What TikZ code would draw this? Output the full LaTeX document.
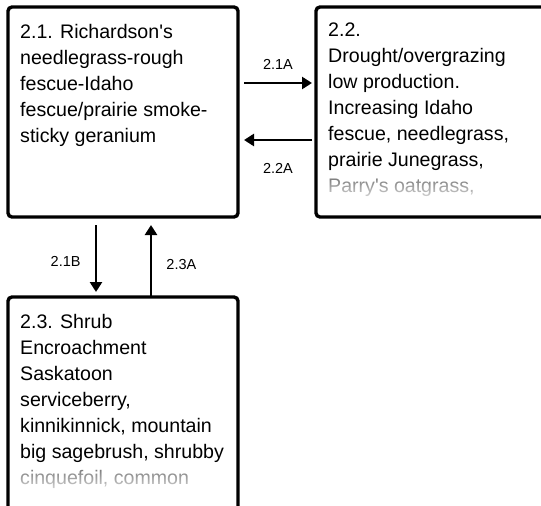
\documentclass[tikz,border=0pt]{standalone}
\usepackage{fontspec}
\setmainfont{Liberation Sans}
\usetikzlibrary{arrows.meta,fadings}
\tikzfading[name=fadelast, top color=transparent!55, bottom color=transparent!12]

\begin{document}
\begin{tikzpicture}[x=1pt,y=-1pt,
        >={Triangle[length=10pt,width=12pt]},
        box/.style={draw, line width=3.4pt, rounded corners=4pt, inner sep=0pt, outer sep=0pt, anchor=north west},
        boxtext/.style={anchor=north west, align=left, inner sep=0pt, font=\fontsize{19.6}{26}\selectfont},
        lbl/.style={font=\fontsize{14.5}{16}\selectfont, inner sep=0pt},
        link/.style={->, line width=2.9pt}]
    \useasboundingbox (0,0) rectangle (541,506);
    \clip (0,0) rectangle (541,506);
    \node [box, minimum width=230pt, minimum height=210pt] (b21) at (8,7) {};
    \node [box, minimum width=250pt, minimum height=210pt] (b22) at (316,7) {};
    \node [box, minimum width=230pt, minimum height=240pt] (b23) at (8,297) {};
    \node [boxtext] (t21) at (20,24) {2.1. Richardson\textquotesingle s\\needlegrass-rough\\fescue-Idaho\\fescue/prairie smoke-\\sticky geranium};
    \node [boxtext] (t22) at (328,23) {2.2.\\Drought/overgrazing\\low production.\\Increasing Idaho\\fescue, needlegrass,\\prairie Junegrass,\\Parry\textquotesingle s oatgrass,};
    \node [boxtext] (t23) at (20,314) {2.3. Shrub\\Encroachment\\Saskatoon\\serviceberry,\\kinnikinnick, mountain\\big sagebrush, shrubby\\cinquefoil, common};
    \fill [white, path fading=fadelast] (319,176) rectangle (541,200);
    \fill [white, path fading=fadelast] (11,467) rectangle (235,492);
    \draw [link] ([xshift=6pt,yshift=29pt]b21.east) -- node [lbl, above=12pt] {2.1A} ([xshift=-4pt,yshift=29pt]b22.west);
    \draw [link] ([xshift=-4pt,yshift=-28pt]b22.west) -- node [lbl, below=22pt] {2.2A} ([xshift=6pt,yshift=-28pt]b21.east);
    \draw [link] ([xshift=-27pt,yshift=-8pt]b21.south) -- node [lbl, left=14pt, pos=0.55] {2.1B} ([xshift=-27pt,yshift=5pt]b23.north);
    \draw [link] ([xshift=28pt]b23.north) -- node [lbl, right=14pt, pos=0.45] {2.3A} ([xshift=28pt,yshift=-8pt]b21.south);
\end{tikzpicture}
\end{document}
